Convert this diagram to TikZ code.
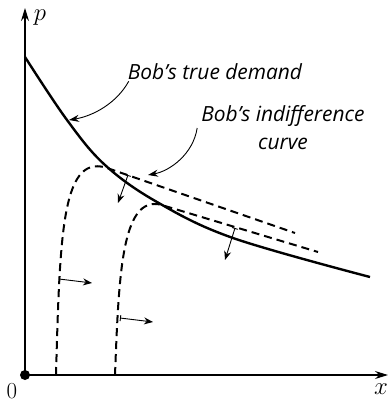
\documentclass[tikz,border=0pt]{standalone}
\usepackage{fontspec}
\newfontfamily\notefont{Open Sans}
\usetikzlibrary{arrows.meta}

\begin{document}
\begin{tikzpicture}[x=1bp, y=-1bp,
  axis/.style={-{Stealth[length=13bp,width=8bp]}, line width=1.2bp},
  demand/.style={line width=2.4bp},
  indiff/.style={line width=2bp, dash pattern=on 8bp off 5bp},
  move/.style={{Bar[width=6bp]}-{Stealth[length=9bp,width=7bp]}, line width=0.9bp},
  note/.style={-{Stealth[length=10bp,width=7bp]}, line width=0.9bp},
  notetext/.style={font=\notefont\itshape\fontsize{21}{28}\selectfont, align=center, inner sep=2bp},
  mathtext/.style={font=\fontsize{23}{27}\selectfont, inner sep=1bp}
]
\useasboundingbox (0,0) rectangle (390,404);

% axes
\node[circle, fill, inner sep=0pt, minimum size=10bp] (o) at (25,375) {};
\draw[axis] (o.center) -- (25,8);
\draw[axis] (o.center) -- (388,375);
\node[mathtext] (plab) at (40,18) {$p$};
\node[mathtext] (xlab) at (381,389) {$x$};
\node[mathtext] (olab) at (12,391) {0};

% true demand
\draw[demand] plot[smooth, tension=0.6] coordinates {(25,57) (67,120) (105,165) (157,202) (233,238) (370,277)};

% indifference curves
\draw[indiff] (56,375) .. controls (60,230) and (62,150) .. (110,169) -- (295,233);
\draw[indiff] (115,375) .. controls (119,270) and (122,190) .. (165,206) -- (318,252);

% shifts
\draw[move] (59,279) -- (92,283);
\draw[move] (120,318) -- (153,322);
\draw[move] (128,175) -- (118,203);
\draw[move] (235,228) -- (225,260);

% labels
\node[notetext] (truelab) at (215,72) {Bob’s true demand};
\node[notetext] (indlab) at (283,128) {Bob’s indifference\\curve};
\coordinate (dtip) at (69,120);
\coordinate (itip) at (148,175);
\draw[note] ([xshift=3bp, yshift=1bp]truelab.south west) .. controls +(-12,22) and +(24,-4) .. (dtip);
\draw[note] ([xshift=-2bp]indlab.west) .. controls +(-4,26) and +(22,-4) .. (itip);
\end{tikzpicture}
\end{document}
